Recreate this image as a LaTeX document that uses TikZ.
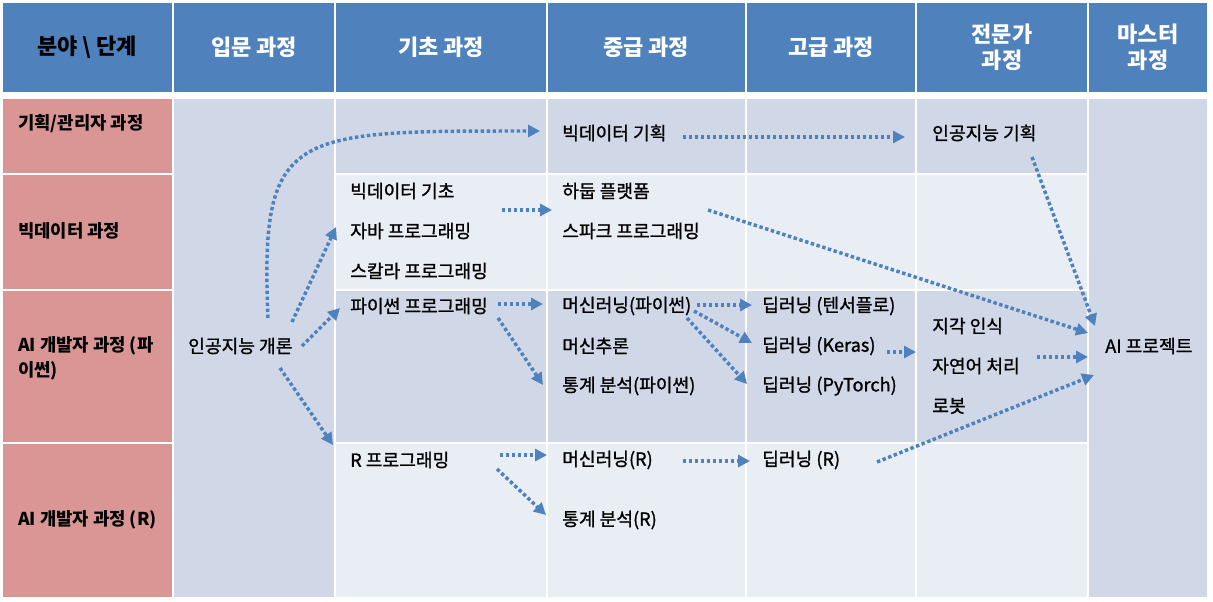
\documentclass[tikz,border=0pt]{standalone}
\usepackage{fontspec}
\setmainfont{Noto Sans CJK KR}
\newfontfamily\itemfont{Noto Sans CJK KR}[FakeBold=1.2]
\usetikzlibrary{arrows.meta}
\definecolor{hdrblue}{HTML}{4F81BD}
\definecolor{rowpink}{HTML}{D99694}
\definecolor{celldark}{HTML}{D0D8E8}
\definecolor{celllight}{HTML}{E9EDF4}
\tikzset{
  cell/.style={draw=white,line width=1.5pt},
  hdr/.style={text=white,inner sep=0pt,align=center,font=\bfseries\fontsize{16.5}{19.5}\selectfont},
  rowhdr/.style={anchor=west,inner sep=0pt,align=left,font=\bfseries\fontsize{13.3}{18.5}\selectfont},
  item/.style={anchor=west,inner sep=0pt,font=\itemfont\fontsize{13.6}{15}\selectfont},
  flow/.style={hdrblue,line width=2.6pt,dash pattern=on 2.6pt off 1.9pt,-{Triangle[length=9pt,width=9pt]}}
}
\begin{document}
\begin{tikzpicture}[x=0.75pt,y=-0.75pt]
\useasboundingbox (0,0) rectangle (1213,601);
% header band
\foreach \xa/\xb in {2/172.5,172.5/335,335/547,547/745.5,745.5/916,916/1088,1088/1208}
  \draw[cell,fill=hdrblue] (\xa,2) rectangle (\xb,93.3);
% body rows
\foreach \ya/\yb/\tone in {98/174/celldark,174/289.5/celllight,289.5/442.5/celldark,442.5/597.5/celllight}{
  \draw[cell,fill=rowpink] (2,\ya) rectangle (172.5,\yb);
  \foreach \xa/\xb in {335/547,547/745.5,745.5/916,916/1088}
    \draw[cell,fill=\tone] (\xa,\ya) rectangle (\xb,\yb);
}
% merged columns
\draw[cell,fill=celldark] (172.5,98) rectangle (335,597.5);
\draw[cell,fill=celldark] (1088,98) rectangle (1208,597.5);

% headings
\node[hdr,text=black] (hfield) at (87,47) {분야 \textbackslash\ 단계};
\node[hdr] (hintro) at (254,47) {입문 과정};
\node[hdr] (hbasic) at (441,47) {기초 과정};
\node[hdr] (hmid) at (646,47) {중급 과정};
\node[hdr] (hadv) at (831,47) {고급 과정};
\node[hdr] (hexpert) at (1002,47) {전문가\\과정};
\node[hdr] (hmaster) at (1148,47) {마스터\\과정};

\node[rowhdr] (rplan) at (18,124) {기획/관리자 과정};
\node[rowhdr] (rbig) at (18,231) {빅데이터 과정};
\node[rowhdr] (rpy) at (18,358) {AI 개발자 과정 (파\\이썬)};
\node[rowhdr] (rr) at (18,520) {AI 개발자 과정 (R)};

% courses
\node[item] (gaesul) at (188,346) {인공지능 개론};
\foreach \n/\y/\t in {bigbasic/191/빅데이터 기초,java/231/자바 프로그래밍,scala/271/스칼라 프로그래밍,
    pyprog/306/파이썬 프로그래밍,rprog/460/R 프로그래밍}
  \node[item] (\n) at (350,\y) {\t};
\foreach \n/\y/\t in {bigplan/133/빅데이터 기획,hadoop/191/하둡 플랫폼,spark/231/스파크 프로그래밍,
    mlpy/306/머신러닝(파이썬),mlinfer/346/머신추론,statpy/386/통계 분석(파이썬),mlr/460/머신러닝(R),statr/520/통계 분석(R)}
  \node[item] (\n) at (562,\y) {\t};
\foreach \n/\y/\t in {dltf/306/딥러닝 (텐서플로),dlkeras/346/딥러닝 (Keras),dlpt/386/딥러닝 (PyTorch),dlr/460/딥러닝 (R)}
  \node[item] (\n) at (762,\y) {\t};
\foreach \n/\y/\t in {aiplan/133/인공지능 기획,percept/326/지각 인식,nlp/366/자연어 처리,robot/406/로봇}
  \node[item] (\n) at (932,\y) {\t};
\node[item] (aiproj) at (1105,346) {AI 프로젝트};

% flows
\draw[flow] ([shift={(80,-28)}]gaesul.west) .. controls +(-8,-188) and +(-250,0) .. ([shift={(-22,-2)}]bigplan.west);
\draw[flow] ([shift={(104,-24)}]gaesul.west) -- ([shift={(-14,-4)}]java.west);
\draw[flow] ([shift={(114,0)}]gaesul.west) -- ([shift={(-10,2)}]pyprog.west);
\draw[flow] ([shift={(92,22)}]gaesul.west) -- ([shift={(-17,-15)}]rprog.west);
\draw[flow] ([shift={(152,19)}]bigbasic.west) -- ([shift={(-10,19)}]hadoop.west);
\draw[flow] ([shift={(121,4)}]bigplan.west) -- ([shift={(-27,4)}]aiplan.west);
\draw[flow] ([shift={(146,19)}]hadoop.west) -- ([shift={(-17,-13)}]aiproj.west);
\draw[flow] ([shift={(100,24)}]aiplan.west) -- ([shift={(-10,-20)}]aiproj.west);
\draw[flow] ([shift={(148,-2)}]pyprog.west) -- ([shift={(-19,-2)}]mlpy.west);
\draw[flow] ([shift={(148,12)}]pyprog.west) -- ([shift={(-19,-1)}]statpy.west);
\draw[flow] ([shift={(150,-5)}]rprog.west) -- ([shift={(-15,-5)}]mlr.west);
\draw[flow] ([shift={(147,9)}]rprog.west) -- ([shift={(-16,-5)}]statr.west);
\draw[flow] ([shift={(135,-1)}]mlpy.west) -- ([shift={(-10,-1)}]dltf.west);
\draw[flow] ([shift={(132,5)}]mlpy.west) -- ([shift={(-10,-3)}]dlkeras.west);
\draw[flow] ([shift={(125,12)}]mlpy.west) -- ([shift={(-15,-2)}]dlpt.west);
\draw[flow] ([shift={(121,1)}]mlr.west) -- ([shift={(-12,1)}]dlr.west);
\draw[flow] ([shift={(125,6)}]dlkeras.west) -- ([shift={(-16,-14)}]nlp.west);
\draw[flow] ([shift={(105,-9)}]nlp.west) -- ([shift={(-17,11)}]aiproj.west);
\draw[flow] ([shift={(115,2)}]dlr.west) -- ([shift={(-11,29)}]aiproj.west);
\end{tikzpicture}
\end{document}
